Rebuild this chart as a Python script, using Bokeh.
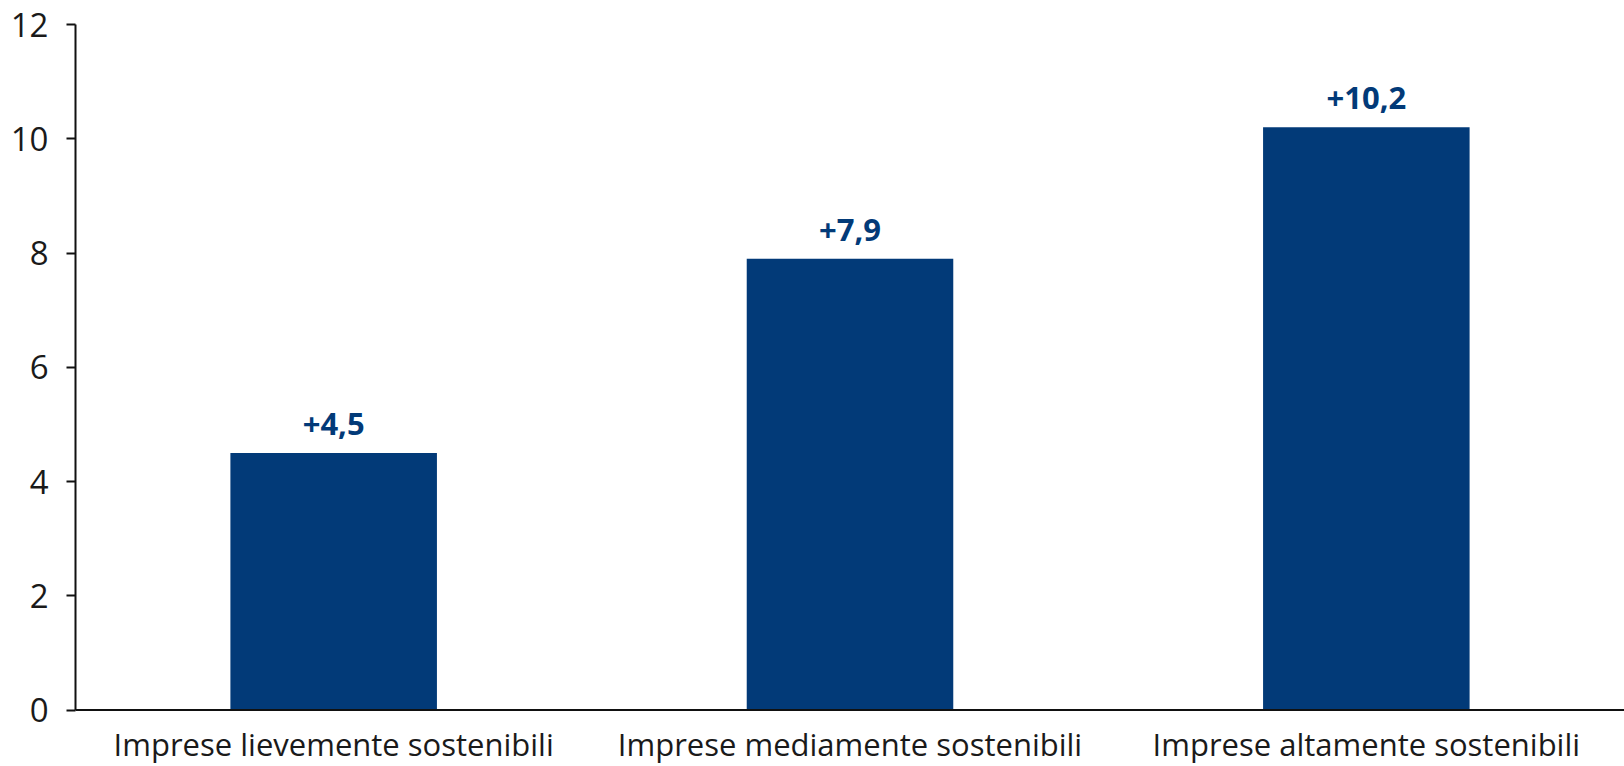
from bokeh.plotting import figure
from bokeh.models import ColumnDataSource, LabelSet, FixedTicker, Range1d, Span
from bokeh.core.properties import value
from bokeh.embed import file_html
from bokeh.resources import INLINE

categories = ["Imprese lievemente sostenibili", "Imprese mediamente sostenibili", "Imprese altamente sostenibili"]
values = [4.5, 7.9, 10.2]
y_ticks = [0, 2, 4, 6, 8, 10, 12]

labels = ["+" + f"{v:.1f}".replace(".", ",") for v in values]
zeros = [0 for _ in values]
src = ColumnDataSource(dict(cat=categories, val=values, lab=labels, zero=zeros))

BLUE = "#023A78"
FONT = "Open Sans"

# frame reaches the bottom of the page so that the category names (drawn as text) fit below the zero line
p = figure(x_range=categories, y_range=Range1d(-0.988, 12), width=1624, height=766,
           output_backend="svg", toolbar_location=None, x_axis_location=None,
           min_border_left=75, min_border_right=0, min_border_top=24, min_border_bottom=0)
p.x_range.range_padding = 0.0

p.vbar(x="cat", top="val", bottom=0, width=0.4, source=src, color=BLUE, line_color=None)

lbl = LabelSet(x="cat", y="val", text="lab", source=src, text_align="center",
               text_baseline="alphabetic", y_offset=18, text_color=BLUE,
               text_font=value(FONT), text_font_style="bold", text_font_size="31px")
p.add_layout(lbl)

p.text(x="cat", y="zero", text="cat", source=src, text_align="center",
       text_baseline="middle", y_offset=34, text_color="#1a1a1a",
       text_font=value(FONT), text_font_size="31px")

zero_line = Span(location=0, dimension="width", line_color="#111111", line_width=2)
p.add_layout(zero_line)

p.grid.visible = False
p.outline_line_color = None
p.background_fill_color = "white"
p.border_fill_color = "white"

p.yaxis.bounds = (0, 12)
p.yaxis.ticker = FixedTicker(ticks=y_ticks)
p.yaxis.minor_tick_line_color = None
p.yaxis.major_tick_in = 0
p.yaxis.major_tick_out = 9
p.yaxis.axis_line_width = 2
p.yaxis.major_tick_line_width = 2
p.yaxis.axis_line_color = "#111111"
p.yaxis.major_tick_line_color = "#111111"
p.yaxis.major_label_text_font = FONT
p.yaxis.major_label_text_font_size = "33px"
p.yaxis.major_label_text_color = "#1a1a1a"
p.yaxis.major_label_standoff = 18

open("out.html", "w").write(file_html(p, INLINE))
